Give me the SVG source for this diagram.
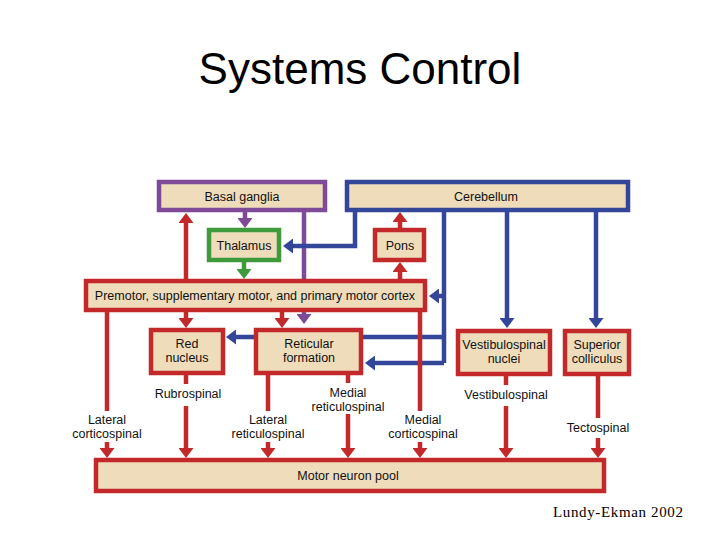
<svg xmlns="http://www.w3.org/2000/svg" width="720" height="540" viewBox="0 0 720 540">
<style>
.box{fill:#eedcbb;stroke-width:4.5}
.red{stroke:#c3282b}
.blue{stroke:#34469a}
.purple{stroke:#7e4a98}
.green{stroke:#3f9a3c}
.lbl{font-family:"Liberation Sans",Arial,sans-serif;font-size:12.5px;fill:#111;text-anchor:middle}
.ln{fill:none;stroke-width:4.5}
.title{font-family:"Liberation Sans",Arial,sans-serif;font-size:44px;fill:#000;text-anchor:middle}
.cite{font-family:"Liberation Serif","Times New Roman",serif;font-size:15px;fill:#000}
</style>
<defs>
<marker id="aR" viewBox="0 0 10 15" refX="4" refY="7.5" markerWidth="10" markerHeight="15" markerUnits="userSpaceOnUse" orient="auto"><path d="M0,0 L10,7.5 L0,15 z" fill="#c3282b"/></marker>
<marker id="aB" viewBox="0 0 10 15" refX="4" refY="7.5" markerWidth="10" markerHeight="15" markerUnits="userSpaceOnUse" orient="auto"><path d="M0,0 L10,7.5 L0,15 z" fill="#34469a"/></marker>
<marker id="aP" viewBox="0 0 10 15" refX="4" refY="7.5" markerWidth="10" markerHeight="15" markerUnits="userSpaceOnUse" orient="auto"><path d="M0,0 L10,7.5 L0,15 z" fill="#7e4a98"/></marker>
<marker id="aG" viewBox="0 0 10 15" refX="4" refY="7.5" markerWidth="10" markerHeight="15" markerUnits="userSpaceOnUse" orient="auto"><path d="M0,0 L10,7.5 L0,15 z" fill="#3f9a3c"/></marker>
</defs>

<text class="title" x="360" y="84">Systems Control</text>

<g id="connectors">
<path class="ln purple" d="M304,212 V318" marker-end="url(#aP)"/>
<path class="ln blue" d="M444,212 V363"/>
<path class="ln blue" d="M444,337 H232" marker-end="url(#aB)"/>
<path class="ln blue" d="M444,363 H371" marker-end="url(#aB)"/>
<path class="ln blue" d="M444,296 H435" marker-end="url(#aB)"/>
<path class="ln blue" d="M355,212 V246 H289" marker-end="url(#aB)"/>
<path class="ln blue" d="M507,212 V322" marker-end="url(#aB)"/>
<path class="ln blue" d="M596,212 V322" marker-end="url(#aB)"/>
<path class="ln red" d="M186,279 V219" marker-end="url(#aR)"/>
<path class="ln purple" d="M245,212 V222" marker-end="url(#aP)"/>
<path class="ln green" d="M244,262 V273" marker-end="url(#aG)"/>
<path class="ln red" d="M400,279 V268" marker-end="url(#aR)"/>
<path class="ln red" d="M400,230 V218" marker-end="url(#aR)"/>
<path class="ln red" d="M186,312 V322" marker-end="url(#aR)"/>
<path class="ln red" d="M282,312 V322" marker-end="url(#aR)"/>
<path class="ln red" d="M107,312 V411"/>
<path class="ln red" d="M107,442 V452" marker-end="url(#aR)"/>
<path class="ln red" d="M186,375 V384"/>
<path class="ln red" d="M186,406 V452" marker-end="url(#aR)"/>
<path class="ln red" d="M268,375 V411"/>
<path class="ln red" d="M268,442 V452" marker-end="url(#aR)"/>
<path class="ln red" d="M348,375 V383"/>
<path class="ln red" d="M348,414 V452" marker-end="url(#aR)"/>
<path class="ln red" d="M420,312 V411"/>
<path class="ln red" d="M420,442 V452" marker-end="url(#aR)"/>
<path class="ln red" d="M506,376 V385"/>
<path class="ln red" d="M506,406 V452" marker-end="url(#aR)"/>
<path class="ln red" d="M598,376 V418"/>
<path class="ln red" d="M598,438 V452" marker-end="url(#aR)"/>
</g>

<g id="labels">
<text class="lbl" x="107" y="423.5">Lateral</text>
<text class="lbl" x="107" y="437.5">corticospinal</text>
<text class="lbl" x="188" y="398">Rubrospinal</text>
<text class="lbl" x="268" y="423.5">Lateral</text>
<text class="lbl" x="268" y="437.5">reticulospinal</text>
<text class="lbl" x="348" y="396.5">Medial</text>
<text class="lbl" x="348" y="410.5">reticulospinal</text>
<text class="lbl" x="423" y="423.5">Medial</text>
<text class="lbl" x="423" y="437.5">corticospinal</text>
<text class="lbl" x="506" y="399">Vestibulospinal</text>
<text class="lbl" x="598" y="431.5">Tectospinal</text>
</g>

<g id="basal-ganglia"><rect class="box purple" x="159" y="182" width="166" height="28"/><text class="lbl" x="242" y="200.5">Basal ganglia</text></g>
<g id="cerebellum"><rect class="box blue" x="347" y="182" width="281" height="28"/><text class="lbl" x="486" y="200.5">Cerebellum</text></g>
<g id="thalamus"><rect class="box green" x="209" y="230" width="70" height="30"/><text class="lbl" x="244" y="249.5">Thalamus</text></g>
<g id="pons"><rect class="box red" x="375" y="230" width="49" height="30"/><text class="lbl" x="400" y="249.5">Pons</text></g>
<g id="motor-cortex"><rect class="box red" x="86" y="281" width="339" height="29"/><text class="lbl" x="255" y="299.5">Premotor, supplementary motor, and primary motor cortex</text></g>
<g id="red-nucleus"><rect class="box red" x="151" y="330" width="72" height="43"/><text class="lbl" x="187" y="348">Red</text><text class="lbl" x="187" y="362">nucleus</text></g>
<g id="reticular-formation"><rect class="box red" x="256" y="330" width="105" height="43"/><text class="lbl" x="309" y="348">Reticular</text><text class="lbl" x="309" y="362">formation</text></g>
<g id="vestibulospinal-nuclei"><rect class="box red" x="458" y="331" width="92" height="43"/><text class="lbl" x="504" y="349">Vestibulospinal</text><text class="lbl" x="504" y="363">nuclei</text></g>
<g id="superior-colliculus"><rect class="box red" x="565" y="331" width="64" height="43"/><text class="lbl" x="597" y="349">Superior</text><text class="lbl" x="597" y="363">colliculus</text></g>
<g id="motor-neuron-pool"><rect class="box red" x="96" y="460" width="508" height="31"/><text class="lbl" x="348" y="480">Motor neuron pool</text></g>

<text class="cite" x="553" y="517" textLength="130" lengthAdjust="spacing">Lundy-Ekman 2002</text>
</svg>
